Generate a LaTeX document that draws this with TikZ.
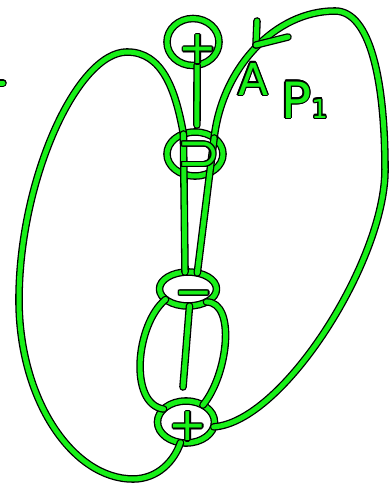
\documentclass[tikz,border=0pt]{standalone}
\usepackage{fontspec}
\setsansfont{DejaVu Sans}
\usepackage{contour}
\contourlength{1.3pt}
\contournumber{12}
\usetikzlibrary{shapes.geometric}
\definecolor{penGreen}{RGB}{24,240,24}
\newcommand{\inked}[1]{\contour{black}{#1}}

\begin{document}
\begin{tikzpicture}[x=1pt,y=-1pt,
  pen/.style={draw=black,line width=1.3pt,double=penGreen,double distance=5pt,line cap=round,line join=round},
  vtx/.style={pen,ellipse,inner sep=0pt,outer sep=0pt},
  sign/.style={text=penGreen,font=\sffamily\fontsize{46}{46}\selectfont,inner sep=0pt},
  tag/.style={text=penGreen,font=\sffamily\fontsize{44}{44}\selectfont,inner sep=0pt,anchor=base west}]
  \useasboundingbox (0,0) rectangle (391,485);
  \node[vtx,minimum width=52pt,minimum height=47pt] (vtop) at (193,42) {};
  \node[vtx,minimum width=56pt,minimum height=44pt] (vup) at (195,154) {};
  \node[vtx,minimum width=57pt,minimum height=34pt] (vlow) at (188,289) {};
  \node[vtx,minimum width=57pt,minimum height=42pt] (vbot) at (186,422) {};
  \coordinate (ltop) at (127,52);
  \coordinate (lleft) at (19,300);
  \coordinate (lbot) at (133,479);
  \coordinate (rtop) at (335,11);
  \coordinate (rright) at (385,170);
  \coordinate (arrtip) at (256,45);
  \coordinate (mend) at (183,387);
  \coordinate (stray) at (3,83);
  \draw[pen,shorten >=7pt] (vtop.-80) -- (vup.85);
  \draw[pen] (vup.120) .. controls +(-8,-45) and +(35,0) .. (ltop)
    .. controls +(-50,0) and +(0,-120) .. (lleft)
    .. controls +(0,100) and +(-60,0) .. (lbot)
    .. controls +(25,0) and +(-6,18) .. (vbot.-105);
  \draw[pen] (vup.40) .. controls +(8,-70) and +(-60,0) .. (rtop)
    .. controls +(35,0) and +(0,-90) .. (rright)
    .. controls +(0,90) and +(70,-5) .. (vbot.-10);
  \draw[pen] (arrtip) -- +(1,-24);
  \draw[pen] (arrtip) -- +(32,-8);
  \draw[pen] (vup.120) -- (vlow.100);
  \draw[pen] (vup.40) -- (vlow.60);
  \draw[pen] (vlow.-155) .. controls +(-30,25) and +(-35,-5) .. (vbot.150);
  \draw[pen] (vlow.-35) .. controls +(30,0) and +(25,-30) .. (vbot.45);
  \draw[pen] (vlow.-85) -- (mend);
  \draw[pen] (stray) -- +(-8,0);
  \node[sign] (svtop) at (198,50) {\inked{+}};
  \node[sign,font=\sffamily\fontsize{52}{52}\selectfont] (svup) at (199,157) {\inked{⊃}};
  \node[sign] (svlow) at (194,300) {\inked{−}};
  \node[sign] (svbot) at (188,427) {\inked{+}};
  \node[tag] (tA) at (238,95) {\inked{A}};
  \node[tag,font=\sffamily\fontsize{50}{50}\selectfont] (tP) at (281,118) {\inked{P{\fontsize{26}{26}\selectfont 1}}};
\end{tikzpicture}
\end{document}
